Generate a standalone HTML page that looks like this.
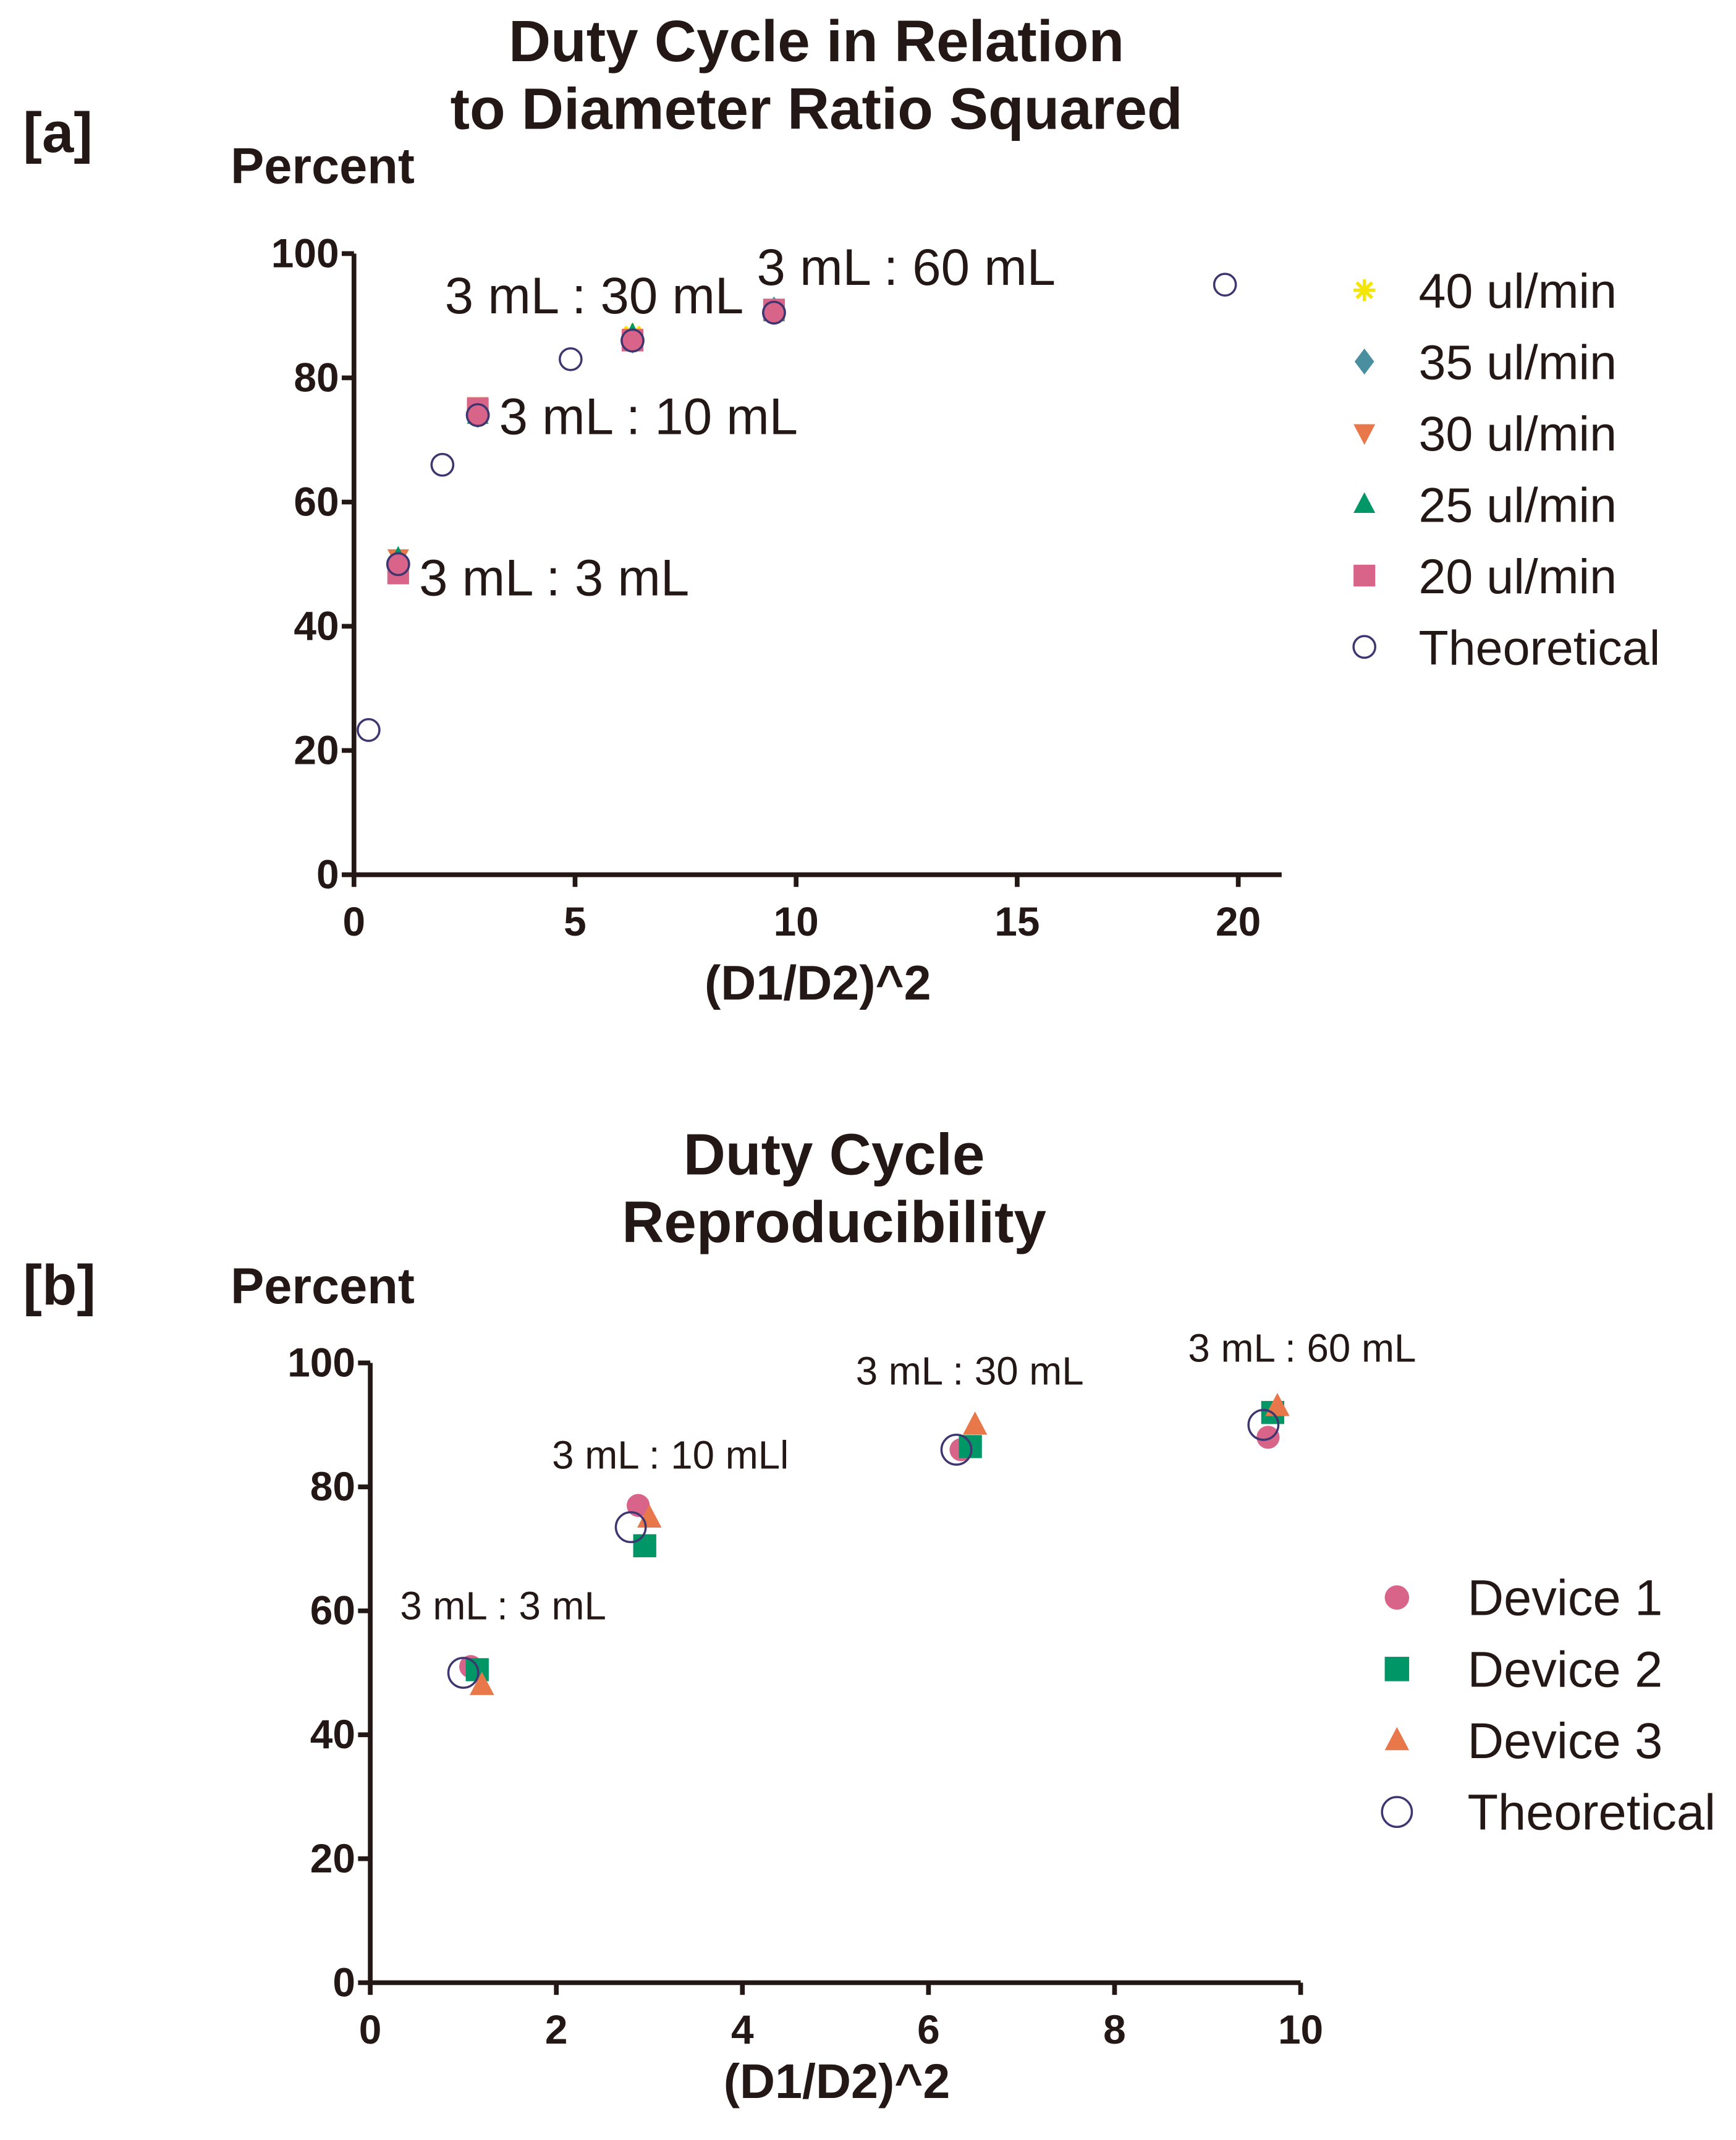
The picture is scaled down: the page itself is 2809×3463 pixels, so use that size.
<!DOCTYPE html>
<html><head><meta charset="utf-8"><style>
html,body{margin:0;padding:0;background:#fff}
svg{display:block}
text{font-family:"Liberation Sans",Arial,sans-serif;fill:#231815}
.b{font-weight:bold}
</style></head><body>
<svg id="chart" width="2809" height="3463" viewBox="0 0 1280 1578" xmlns="http://www.w3.org/2000/svg">
<g id="A"></g>
<g id="B"></g>
</svg>
<script>
// Panel A data
const aXTicks = [0,5,10,15,20];
const aYTicks = [0,20,40,60,80,100];
const aTheoX = [0.33,1,2,2.8,4.9,6.3,9.5,19.7];
const aTheoY = [23.3,50,66,74,83,86,90.5,95];
const aExpX = [1,2.8,6.3,9.5];
const a40 = [50,75,87,91];
const a35 = [50,74,86,91];
const a30 = [51,75.5,86.5,90.5];
const a25 = [51,74,87,90.5];
const a20 = [48.5,75,86,91];
const aDev = [50,74,86,90.5];
// Panel B data
const bXTicks = [0,2,4,6,8,10];
const bYTicks = [0,20,40,60,80,100];
const bTheoX = [1,2.8,6.3,9.6];
const bTheoY = [50,73.5,86,90];
const bD1X = [1.08,2.88,6.35,9.65];
const bD1Y = [51,77,86,88];
const bD2X = [1.15,2.95,6.45,9.7];
const bD2Y = [50.5,70.5,86.5,92];
const bD3X = [1.2,3.0,6.5,9.75];
const bD3Y = [48,75,90,93];

const NS='http://www.w3.org/2000/svg';
function mk(parent,tag,attrs,txt){const e=document.createElementNS(NS,tag);for(const k in attrs)e.setAttribute(k,attrs[k]);if(txt!==undefined)e.textContent=txt;parent.appendChild(e);return e;}
function marker(g,type,cx,cy,r,color){
  let e;
  if(type==='circle')e=mk(g,'circle',{cx:cx,cy:cy,r:r,fill:color});
  else if(type==='ocircle')e=mk(g,'circle',{cx:cx,cy:cy,r:r,fill:'none',stroke:'#3d3670','stroke-width':1.6});
  else if(type==='square')e=mk(g,'rect',{x:cx-r,y:cy-r,width:2*r,height:2*r,fill:color});
  else if(type==='tri')e=mk(g,'polygon',{points:`${cx},${cy-r*1.1} ${cx-r},${cy+r*0.8} ${cx+r},${cy+r*0.8}`,fill:color});
  else if(type==='itri')e=mk(g,'polygon',{points:`${cx},${cy+r*1.1} ${cx-r},${cy-r*0.8} ${cx+r},${cy-r*0.8}`,fill:color});
  else if(type==='diamond')e=mk(g,'polygon',{points:`${cx},${cy-r*1.2} ${cx+r*0.9},${cy} ${cx},${cy+r*1.2} ${cx-r*0.9},${cy}`,fill:color});
  else if(type==='star'){let d='';for(let i=0;i<4;i++){const a=i*Math.PI/4;d+=`M${cx-r*Math.cos(a)},${cy-r*Math.sin(a)}L${cx+r*Math.cos(a)},${cy+r*Math.sin(a)}`;}e=mk(g,'path',{d:d,stroke:color,'stroke-width':2.5});}
  return e;
}
function axes(g,sx,sy,xt,yt,xmin,xEnd,yTop){
  const ax=mk(g,'path',{d:`M${sx(xmin)},${sy(yTop)}L${sx(xmin)},${sy(0)}L${xEnd},${sy(0)}`,fill:'none',stroke:'#231815','stroke-width':3.5});
  
  
  xt.forEach(v=>{
    mk(g,'line',{x1:sx(v),x2:sx(v),y1:sy(0),y2:sy(0)+9,stroke:'#231815','stroke-width':3.5});
    const t=mk(g,'text',{x:sx(v),y:sy(0)+45,'text-anchor':'middle','font-size':30,class:'b'},v);
    
    
  });
  yt.forEach(v=>{
    mk(g,'line',{x1:sx(xmin)-9,x2:sx(xmin),y1:sy(v),y2:sy(v),stroke:'#231815','stroke-width':3.5});
    const t=mk(g,'text',{x:sx(xmin)-11,y:sy(v)+10,'text-anchor':'end','font-size':30,class:'b'},v);
    
    
  });
}
function label(g,x,y,s,size,name,cls,anchor){const t=mk(g,'text',{x:x,y:y,'font-size':size,'text-anchor':anchor||'start',class:cls||''},s);return t;}

// Panel A
(function(){
  const g=document.getElementById('A');
  const sx=v=>261+v*(913-261)/20, sy=v=>645-v*(645-187)/100;
  label(g,602,45,'Duty Cycle  in Relation',43,'title-line-1','b','middle');
  label(g,602,95,'to Diameter Ratio Squared',43,'title-line-2','b','middle');
  label(g,17,112,'[a]',42,'panel-label-a','b');
  label(g,170,135,'Percent',37,'y-axis-title','b');
  label(g,603,737,'(D1/D2)^2',36,'x-axis-title','b','middle');
  axes(g,sx,sy,aXTicks,aYTicks,0,945,100);
  aTheoX.forEach((x,i)=>{const m=marker(g,'ocircle',sx(x),sy(aTheoY[i]),8);});
  const series=[[a40,'star','#f5e600'],[a35,'diamond','#4a8fa0'],[a30,'itri','#e8774a'],[a25,'tri','#009665'],[a20,'square','#d9648a'],[aDev,'circle','#d9648a']];
  series.forEach(s=>{aExpX.forEach((x,i)=>{const m=marker(g,s[1],sx(x),sy(s[0][i]),8,s[2]);});});
  aExpX.forEach((x,i)=>{marker(g,'ocircle',sx(x),sy(aDev[i]),8);});
  label(g,309,439,'3 mL : 3 mL',38,'annotation-3-3');
  label(g,368,320,'3 mL : 10 mL',38,'annotation-3-10');
  label(g,328,231,'3 mL : 30 mL',38,'annotation-3-30');
  label(g,558,210,'3 mL : 60 mL',38,'annotation-3-60');
  const leg=[['40 ul/min','star','#f5e600'],['35 ul/min','diamond','#4a8fa0'],['30 ul/min','itri','#e8774a'],['25 ul/min','tri','#009665'],['20 ul/min','square','#d9648a'],['Theoretical','ocircle','']];
  leg.forEach((l,i)=>{const y=214+i*52.6;const m=marker(g,l[1],1006,y,8,l[2]);label(g,1046,y+13,l[0],36,'legend-entry');});
})();

// Panel B
(function(){
  const g=document.getElementById('B');
  const sx=v=>273+v*(959-273)/10, sy=v=>1462-v*(1462-1005)/100;
  label(g,615,866,'Duty Cycle',43,'title-line-1','b','middle');
  label(g,615,916,'Reproducibility',43,'title-line-2','b','middle');
  label(g,17,962,'[b]',42,'panel-label-b','b');
  label(g,170,961,'Percent',37,'y-axis-title','b');
  label(g,617,1547,'(D1/D2)^2',36,'x-axis-title','b','middle');
  axes(g,sx,sy,bXTicks,bYTicks,0,959,100);
  bD1X.forEach((x,i)=>{const m=marker(g,'circle',sx(x),sy(bD1Y[i]),8.5,'#d9648a');});
  bD2X.forEach((x,i)=>{const m=marker(g,'square',sx(x),sy(bD2Y[i]),8.5,'#009665');});
  bD3X.forEach((x,i)=>{const m=marker(g,'tri',sx(x),sy(bD3Y[i]),9,'#e8774a');});
  bTheoX.forEach((x,i)=>{const m=marker(g,'ocircle',sx(x),sy(bTheoY[i]),11);});
  label(g,295,1194,'3 mL : 3 mL',29,'annotation-3-3');
  label(g,407,1083,'3 mL : 10 mLl',29,'annotation-3-10');
  label(g,631,1021,'3 mL : 30 mL',29,'annotation-3-30');
  label(g,876,1004,'3 mL : 60 mL',29,'annotation-3-60');
  const leg=[['Device 1','circle','#d9648a'],['Device 2','square','#009665'],['Device 3','tri','#e8774a'],['Theoretical','ocircle','']];
  leg.forEach((l,i)=>{const y=1178+i*52.7;const m=marker(g,l[1],1030,y,l[1]==='ocircle'?11:9,l[2]);label(g,1082,y+13,l[0],37,'legend-entry');});
})();
</script>
</body></html>
